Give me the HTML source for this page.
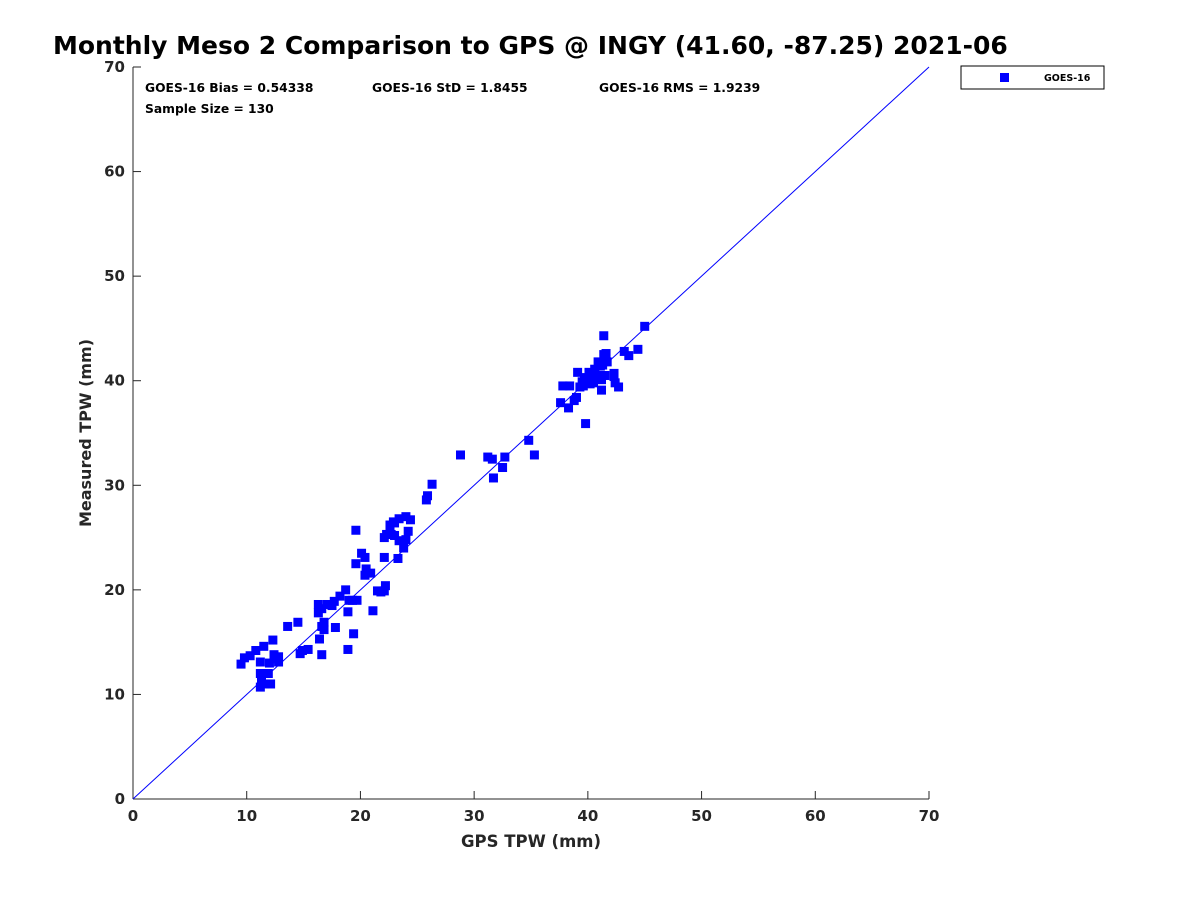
<!DOCTYPE html>
<html><head><meta charset="utf-8"><style>
body{margin:0;background:#fff;font-family:"Liberation Sans","DejaVu Sans",sans-serif}
svg text{font-family:"DejaVu Sans","Liberation Sans",sans-serif;font-weight:bold}
</style></head><body>
<svg id="chart" width="1200" height="900" viewBox="0 0 1200 900">
<rect width="1200" height="900" fill="#fff"/>
<text x="53" y="54" font-size="25" fill="#000">Monthly Meso 2 Comparison to GPS @ INGY (41.60, -87.25) 2021-06</text>
<g id="axes"></g>
<g id="marks"></g>
<text x="145" y="92" font-size="12.3" fill="#000">GOES-16 Bias = 0.54338</text>
<text x="372" y="92" font-size="12.3" fill="#000">GOES-16 StD = 1.8455</text>
<text x="599" y="92" font-size="12.3" fill="#000">GOES-16 RMS = 1.9239</text>
<text x="145" y="113" font-size="12.3" fill="#000">Sample Size = 130</text>
<g>
<rect x="961" y="66" width="143" height="23" fill="#fff" stroke="#000" stroke-width="1"/>
<rect x="1000" y="73" width="9" height="9" fill="#0000ff"/>
<text x="1044" y="81" font-size="9.5" fill="#000">GOES-16</text>
</g>
<text x="531" y="847" font-size="16.5" text-anchor="middle" fill="#262626">GPS TPW (mm)</text>
<text transform="translate(91,433) rotate(-90)" font-size="16" text-anchor="middle" fill="#262626">Measured TPW (mm)</text>
</svg>
<script>
const gpsTpw=[9.5,9.8,10.3,10.8,11.2,11.5,11.2,11.3,11.2,11.6,11.9,12.0,12.3,12.4,12.1,12.6,12.8,12.8,13.6,14.5,14.7,14.9,15.4,16.3,16.3,16.4,16.6,16.6,16.8,16.8,16.6,17.1,17.5,17.7,17.8,18.2,18.7,18.9,18.9,19.0,19.3,19.4,19.7,19.6,19.6,20.1,20.4,20.4,20.5,20.9,21.1,21.5,21.8,22.1,22.1,22.1,22.2,22.3,22.6,22.6,22.7,22.9,23.0,23.0,23.3,23.4,23.4,23.8,24.0,24.0,24.2,24.4,
28.8,31.2,31.6,31.7,32.5,32.7,34.8,35.3,25.8,25.9,26.3,
37.6,37.8,38.3,38.4,38.8,39.0,39.1,39.3,39.5,39.6,39.7,39.8,40.0,40.1,40.2,40.4,40.5,40.6,40.7,40.9,40.9,41.1,41.2,41.2,41.3,41.4,41.5,41.5,41.6,41.7,42.3,42.3,42.4,42.7,43.2,43.6,44.4,45.0,41.4];
const measTpw=[12.9,13.5,13.7,14.2,13.1,14.6,12.0,11.4,10.7,11.0,12.0,13.0,15.2,13.8,11.0,13.4,13.6,13.1,16.5,16.9,13.9,14.2,14.3,17.8,18.6,15.3,18.2,16.5,16.9,16.2,13.8,18.6,18.5,18.9,16.4,19.4,20.0,14.3,17.9,19.0,19.0,15.8,19.0,25.7,22.5,23.5,23.1,21.4,22.0,21.6,18.0,19.9,19.8,23.1,25.0,19.9,20.4,25.3,25.8,26.2,25.3,26.5,25.2,26.4,23.0,26.8,24.7,24.0,24.8,27.0,25.6,26.7,
32.9,32.7,32.5,30.7,31.7,32.7,34.3,32.9,28.6,29.0,30.1,
37.9,39.5,37.4,39.5,38.1,38.4,40.8,39.4,39.9,39.5,40.3,35.9,40.1,40.8,39.7,40.3,39.8,41.1,40.2,40.5,41.8,41.4,40.1,39.1,41.5,42.5,42.1,40.5,42.6,41.8,40.7,40.4,39.8,39.4,42.8,42.4,43.0,45.2,44.3];
const ticks=[0,10,20,30,40,50,60,70];
const NS='http://www.w3.org/2000/svg';
const X0=133,X1=929,Y0=799,Y1=67;
const sx=v=>X0+(X1-X0)*v/70, sy=v=>Y0-(Y0-Y1)*v/70;
function mk(tag,attrs,parent){const e=document.createElementNS(NS,tag);for(const k in attrs)e.setAttribute(k,attrs[k]);parent.appendChild(e);return e;}
const axes=document.getElementById('axes'), marks=document.getElementById('marks');
let l=mk('line',{x1:X0,y1:Y0,x2:X1,y2:Y0,stroke:'#262626','stroke-width':1},axes);


l=mk('line',{x1:X0,y1:Y0,x2:X0,y2:Y1,stroke:'#262626','stroke-width':1},axes);


ticks.forEach(t=>{
  let a=mk('line',{x1:sx(t),y1:Y0,x2:sx(t),y2:Y0-8,stroke:'#262626'},axes);
  
  
  let b=mk('text',{x:sx(t),y:Y0+22,'font-size':15,'text-anchor':'middle',fill:'#262626'},axes);b.textContent=t;
  
  
  let c=mk('line',{x1:X0,y1:sy(t),x2:X0+8,y2:sy(t),stroke:'#262626'},axes);
  
  
  let d=mk('text',{x:X0-8,y:sy(t)+5,'font-size':15,'text-anchor':'end',fill:'#262626'},axes);d.textContent=t;
  
  
});
let ref=mk('line',{x1:sx(0),y1:sy(0),x2:sx(70),y2:sy(70),stroke:'#0000ff','stroke-width':1},marks);


gpsTpw.forEach((g,i)=>{
  const r=mk('rect',{x:sx(g)-4.5,y:sy(measTpw[i])-4.5,width:9,height:9,fill:'#0000ff'},marks);
  
  
});
</script>
</body></html>
